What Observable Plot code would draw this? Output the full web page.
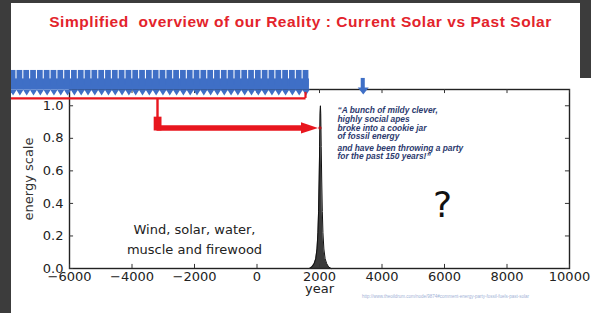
<!DOCTYPE html>
<html><head><meta charset="utf-8">
<script src="https://cdn.jsdelivr.net/npm/d3@7"></script>
<script src="https://cdn.jsdelivr.net/npm/@observablehq/plot@0.6"></script>
<style>
html,body{margin:0;padding:0;}
body{width:591px;height:313px;background:#3c3c3c;overflow:hidden;position:relative;font-family:"DejaVu Sans",sans-serif;}
#panel{position:absolute;left:11px;top:3px;width:580px;height:310px;background:#fff;overflow:hidden;}
#rstrip{position:absolute;left:569px;top:0;width:11px;height:75px;background:#3c3c3c;}
#title{position:absolute;top:10px;left:5px;width:569px;text-align:center;white-space:pre;font-family:"Liberation Sans",Arial,sans-serif;font-weight:bold;font-size:15.5px;letter-spacing:0.55px;color:#e3232b;}
#chart{position:absolute;left:0;top:40px;}
#src{position:absolute;left:351px;top:291px;font-family:"Liberation Sans",Arial,sans-serif;font-size:4.5px;color:#9fb2d6;white-space:nowrap;}
</style></head>
<body>
<div id="panel">
<div id="title">Simplified  overview of our Reality : Current Solar vs Past Solar</div>
<div id="chart"></div>
<div id="src">http://www.theoildrum.com/node/9874#comment-energy-party-fossil-fuels-past-solar</div>
<div id="rstrip"></div>
</div>
<script>
// ---- data ----
const xTicks = [-6000, -4000, -2000, 0, 2000, 4000, 6000, 8000, 10000];
const yTicks = [0, 0.2, 0.4, 0.6, 0.8, 1.0];
const peakYears  = [1680, 1760, 1830, 1880, 1920, 1950, 1970, 1990, 2005, 2020, 2030, 2040, 2055, 2070, 2090, 2110, 2140, 2180, 2230, 2290, 2370];
const peakEnergy = [0, 0.01, 0.03, 0.06, 0.12, 0.22, 0.35, 0.55, 0.75, 0.95, 1.0, 0.95, 0.75, 0.55, 0.35, 0.22, 0.12, 0.06, 0.03, 0.01, 0];
const solarArrowYears = d3.range(-7805, 1600, 218);   // row of "current solar" arrows
const futureArrowYear = [3400];
const windText = ["Wind, solar, water,\nmuscle and firewood"];
const quoteA = ["\u201cA bunch of mildy clever,\nhighly social apes\nbroke into a cookie jar\nof fossil energy"];
const quoteB = ["and have been throwing a party\nfor the past 150 years!\u201d"];
const question = ["?"];

const peak = peakYears.map((y, i) => ({year: y, energy: peakEnergy[i]}));
const fmtX = d => d < 0 ? "\u2212" + (-d) : String(d);
const blue = "#3f6fc6", red = "#e8161e";

const triDown = (k) => ({draw(ctx, size) { const r = Math.sqrt(size / Math.PI); ctx.moveTo(-r, -r * k); ctx.lineTo(r, -r * k); ctx.lineTo(0, r * k); ctx.closePath(); }});
const triRight = (k) => ({draw(ctx, size) { const r = Math.sqrt(size / Math.PI); ctx.moveTo(-r, -r * k); ctx.lineTo(r, 0); ctx.lineTo(-r, r * k); ctx.closePath(); }});

const quoteStyle = {textAnchor: "start", lineAnchor: "top", fontSize: 8.4, fontStyle: "italic", fontWeight: "bold", fontFamily: "Liberation Sans", fill: "#2c3a6e"};

const chart = Plot.plot({
  width: 580, height: 270,
  marginLeft: 58, marginRight: 22, marginTop: 46, marginBottom: 45,
  x: {domain: [-6000, 10000]},
  y: {domain: [0, 1.1]},
  style: {fontFamily: "DejaVu Sans", fontSize: "13px", color: "#222", background: "transparent", overflow: "visible"},
  marks: [
    // fossil peak
    Plot.areaY(peak, {x: "year", y: "energy", fill: "#3a3a3a"}),
    Plot.lineY(peak, {x: "year", y: "energy", stroke: "#111", strokeWidth: 1}),
    // frame and inward ticks
    Plot.frame({stroke: "#222", strokeWidth: 1.4}),
    Plot.ruleX(xTicks, {y1: 0, y2: 0.025, stroke: "#333"}),
    Plot.ruleX(xTicks, {y1: 1.075, y2: 1.1, stroke: "#333"}),
    Plot.ruleY(yTicks, {x1: -6000, x2: -5870, stroke: "#333"}),
    Plot.ruleY(yTicks, {x1: 9870, x2: 10000, stroke: "#333"}),
    Plot.axisX(xTicks, {tickSize: 0, tickPadding: 3, tickFormat: fmtX, label: null, fill: "#222"}),
    Plot.axisY(yTicks, {tickSize: 0, tickPadding: 6, tickFormat: d3.format(".1f"), label: null, fill: "#222"}),
    Plot.text(["energy scale"], {frameAnchor: "left", dx: -41, rotate: -90, textAnchor: "middle", fill: "#333"}),
    Plot.text(["year"], {frameAnchor: "bottom", dy: 24, fill: "#222"}),
    // current solar arrow row
    Plot.rect([0], {x1: -7856, x2: 1678, y1: 1.10, y2: 1.165, fill: blue}),
    Plot.rect(solarArrowYears, {x1: d => d - 92, x2: d => d + 92, y1: 1.12, y2: 1.217, fill: blue}),
    Plot.dot(solarArrowYears, {x: d => d, y: 1.082, r: 3.9, symbol: triDown(0.8), fill: blue, stroke: null}),
    // red bracket
    Plot.ruleY([1.045], {x1: -7856, x2: 1570, stroke: red, strokeWidth: 2.2}),
    Plot.ruleX([1552], {y1: 1.045, y2: 1.082, stroke: red, strokeWidth: 2.2}),
    Plot.ruleX([-3184], {y1: 1.045, y2: 0.92, stroke: red, strokeWidth: 2.4}),
    Plot.rect([0], {x1: -3290, x2: -3040, y1: 0.845, y2: 0.93, fill: red}),
    Plot.ruleY([0.864], {x1: -3200, x2: 1500, stroke: red, strokeWidth: 5.5}),
    Plot.dot([1680], {x: d => d, y: 0.864, r: 8.5, symbol: triRight(0.66), fill: red, stroke: null}),
    Plot.dot([2015], {x: d => d, y: 0.864, r: 1.6, fill: "#b01018"}),
    // future arrow
    Plot.rect(futureArrowYear, {x1: d => d - 65, x2: d => d + 65, y1: 1.1, y2: 1.168, fill: blue}),
    Plot.dot(futureArrowYear, {x: d => d, y: 1.091, r: 5.5, symbol: triDown(0.65), fill: blue, stroke: null}),
    // annotations
    Plot.text(windText, {x: -2000, y: 0.19, lineHeight: 1.55, fill: "#222"}),
    Plot.text(question, {x: 5940, y: 0.387, fontSize: 36, fill: "#111"}),
    Plot.text(quoteA, {x: 2576, y: 0.996, lineHeight: 1.06, ...quoteStyle}),
    Plot.text(quoteB, {x: 2576, y: 0.755, lineHeight: 0.95, ...quoteStyle})
  ]
});
document.getElementById("chart").appendChild(chart);
</script>
</body></html>
